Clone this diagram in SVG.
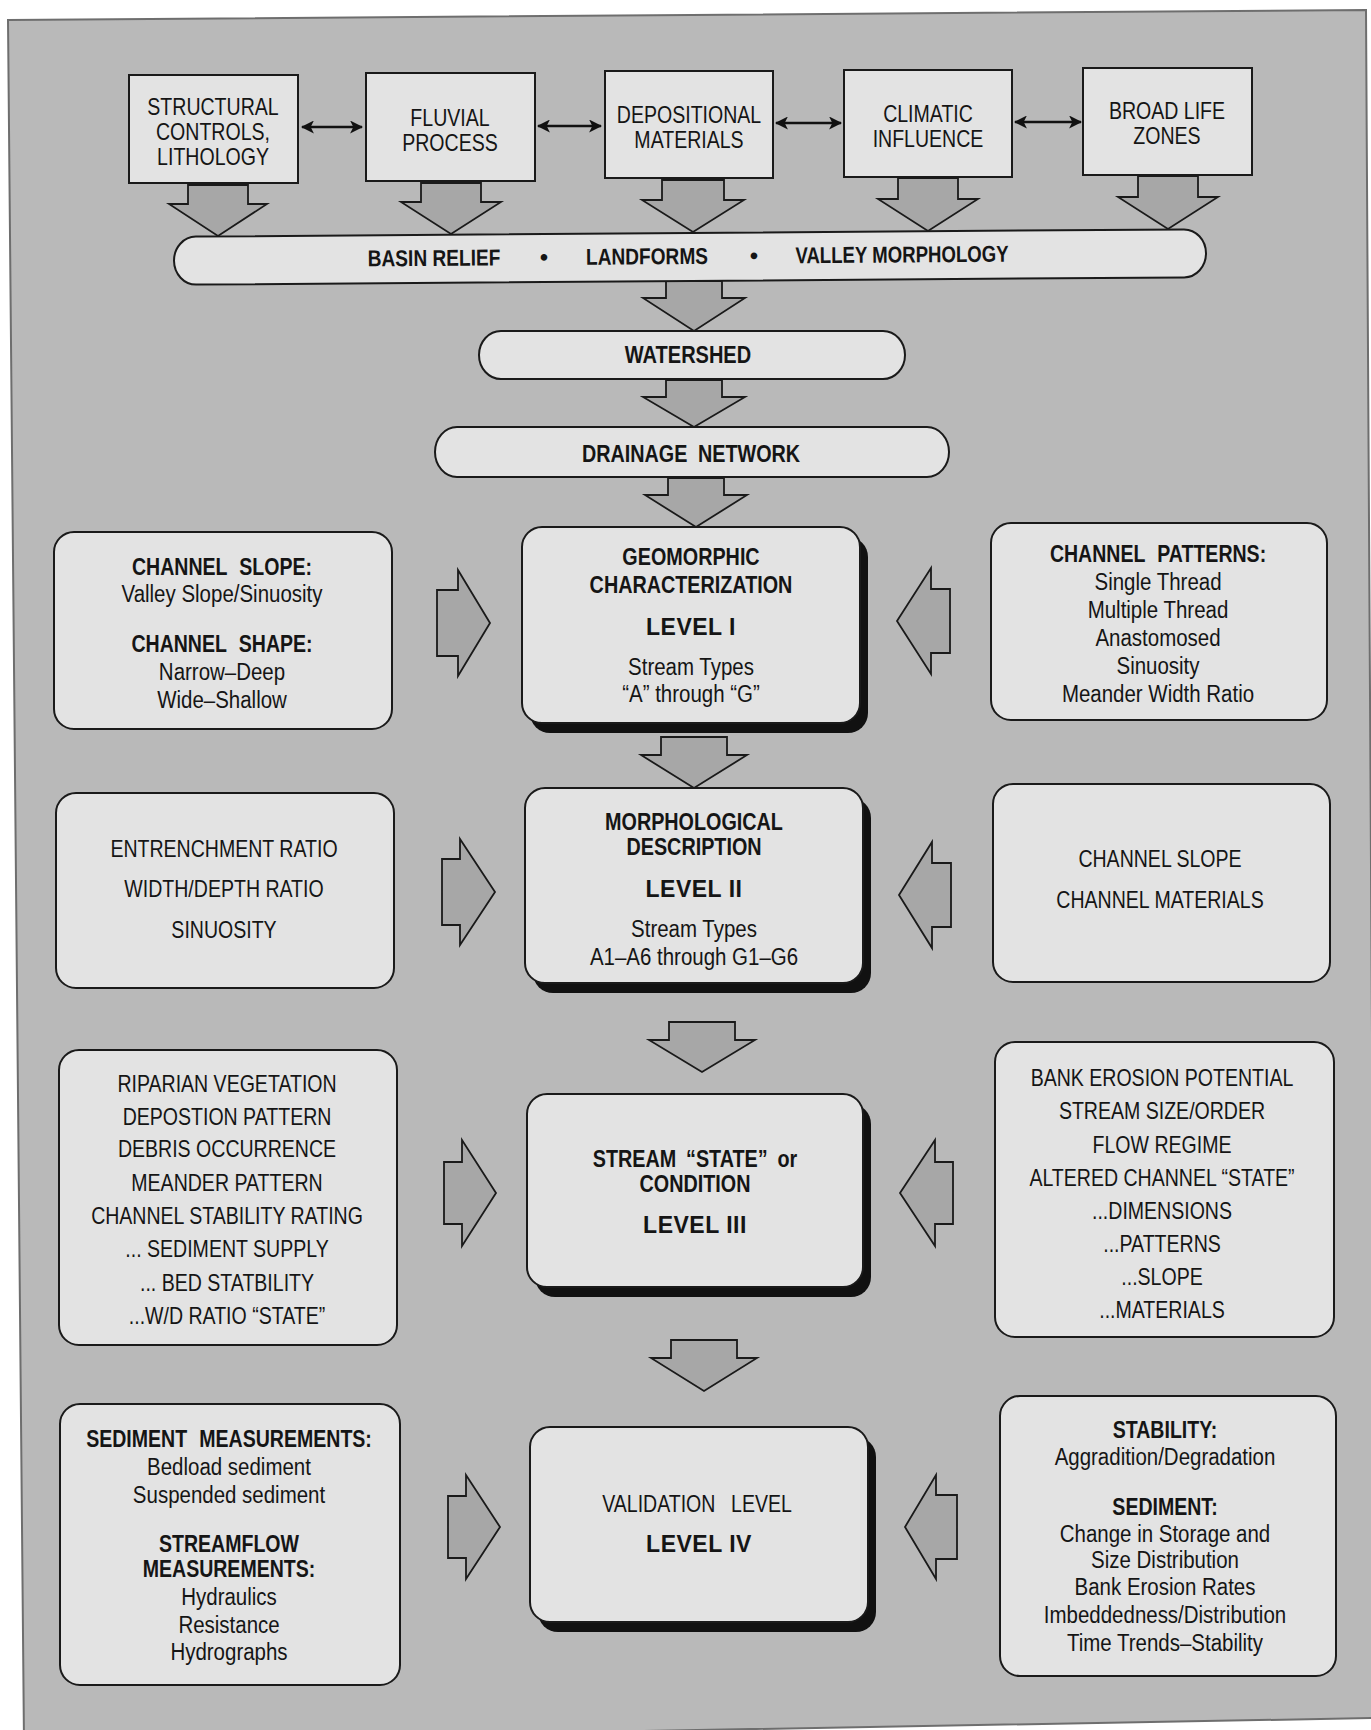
<svg xmlns="http://www.w3.org/2000/svg" width="1371" height="1730" viewBox="0 0 1371 1730">
<defs>
<style>
text{font-family:"Liberation Sans","Arial",sans-serif;font-size:23px;fill:#151515;text-anchor:middle}
.b{font-weight:bold}
.hd{font-weight:bold;word-spacing:8px}
.lv{font-weight:bold;letter-spacing:0.5px}
.box{fill:#e3e3e3;stroke:#1a1a1a;stroke-width:2}
.shadow{fill:#111}
.blk{fill:#a7a7a7;stroke:#1a1a1a;stroke-width:1.8;stroke-linejoin:miter}
.dbl{stroke:#111;stroke-width:2.5;fill:none}
</style>
<marker id="ah" viewBox="0 0 12 12" refX="11" refY="6" markerWidth="13" markerHeight="13" markerUnits="userSpaceOnUse" orient="auto-start-reverse">
<path d="M0,0 L12,6 L0,12 L3,6 Z" fill="#111"/>
</marker>
</defs>
<rect x="0" y="0" width="1371" height="1730" fill="#ffffff"/>
<polygon points="8,20 1366,10 1376,1718 24,1742" fill="#b9b9b9" stroke="#6e6e6e" stroke-width="2"/>

<g id="connectors">
<line class="dbl" x1="302" y1="127" x2="362" y2="127" marker-start="url(#ah)" marker-end="url(#ah)"/>
<line class="dbl" x1="538" y1="126" x2="601" y2="126" marker-start="url(#ah)" marker-end="url(#ah)"/>
<line class="dbl" x1="776" y1="123" x2="841" y2="123" marker-start="url(#ah)" marker-end="url(#ah)"/>
<line class="dbl" x1="1015" y1="122" x2="1081" y2="122" marker-start="url(#ah)" marker-end="url(#ah)"/>
<path class="blk" d="M188,185 L248,185 L248,204 L267,204 L218,236 L169,204 L188,204 Z"/>
<path class="blk" d="M421,183 L481,183 L481,202 L501,202 L451,234 L401,202 L421,202 Z"/>
<path class="blk" d="M662,180 L724,180 L724,200 L744,200 L693,232 L642,200 L662,200 Z"/>
<path class="blk" d="M898,178 L958,178 L958,199 L978,199 L928,231 L878,199 L898,199 Z"/>
<path class="blk" d="M1138,176 L1198,176 L1198,197 L1218,197 L1168,229 L1118,197 L1138,197 Z"/>
<path class="blk" d="M666,281 L722,281 L722,298 L745,298 L694,331 L643,298 L666,298 Z"/>
<path class="blk" d="M666,380 L722,380 L722,397 L745,397 L694,427 L643,397 L666,397 Z"/>
<path class="blk" d="M668,478 L724,478 L724,495 L747,495 L696,527 L645,495 L668,495 Z"/>
<path class="blk" d="M661,737 L727,737 L727,755 L747,755 L694,788 L641,755 L661,755 Z"/>
<path class="blk" d="M669,1022 L735,1022 L735,1040 L755,1040 L702,1072 L649,1040 L669,1040 Z"/>
<path class="blk" d="M671,1340 L737,1340 L737,1358 L757,1358 L704,1391 L651,1358 L671,1358 Z"/>
<path class="blk" d="M437,590 L458,590 L458,570 L490,623 L458,676 L458,656 L437,656 Z"/>
<path class="blk" d="M442,859 L460,859 L460,839 L495,892 L460,945 L460,925 L442,925 Z"/>
<path class="blk" d="M444,1162 L462,1162 L462,1140 L496,1193 L462,1246 L462,1224 L444,1224 Z"/>
<path class="blk" d="M448,1496 L466,1496 L466,1475 L500,1527 L466,1579 L466,1558 L448,1558 Z"/>
<path class="blk" d="M950,589 L931,589 L931,568 L897,621 L931,674 L931,653 L950,653 Z"/>
<path class="blk" d="M951,863 L932,863 L932,842 L899,895 L932,948 L932,927 L951,927 Z"/>
<path class="blk" d="M953,1162 L935,1162 L935,1140 L900,1193 L935,1246 L935,1224 L953,1224 Z"/>
<path class="blk" d="M957,1495 L936,1495 L936,1475 L905,1527 L936,1579 L936,1559 L957,1559 Z"/>
</g>

<g id="structural">
<rect class="box" x="129" y="75" width="169" height="108"/>
<g transform="translate(213 0) scale(.85 1)">
<text y="115">STRUCTURAL</text>
<text y="140">CONTROLS,</text>
<text y="165">LITHOLOGY</text>
</g>
</g>
<g id="fluvial">
<rect class="box" x="366" y="73" width="169" height="108"/>
<g transform="translate(450 0) scale(.85 1)">
<text y="126">FLUVIAL</text>
<text y="151">PROCESS</text>
</g>
</g>
<g id="depositional">
<rect class="box" x="605" y="71" width="168" height="107"/>
<g transform="translate(689 0) scale(.85 1)">
<text y="123">DEPOSITIONAL</text>
<text y="148">MATERIALS</text>
</g>
</g>
<g id="climatic">
<rect class="box" x="844" y="70" width="168" height="107"/>
<g transform="translate(928 0) scale(.85 1)">
<text y="122">CLIMATIC</text>
<text y="147">INFLUENCE</text>
</g>
</g>
<g id="lifezones">
<rect class="box" x="1083" y="68" width="169" height="107"/>
<g transform="translate(1167 0) scale(.85 1)">
<text y="119">BROAD LIFE</text>
<text y="144">ZONES</text>
</g>
</g>

<g id="basin" transform="rotate(-0.42 690 257)">
<rect class="box" x="174" y="233" width="1032" height="48" rx="22" ry="24"/>
<text class="b" transform="translate(434 0) scale(.83 1)" y="264">BASIN RELIEF</text>
<text class="b" x="544" y="264">•</text>
<text class="b" transform="translate(647 0) scale(.83 1)" y="264">LANDFORMS</text>
<text class="b" x="754" y="264">•</text>
<text class="b" transform="translate(902 0) scale(.81 1)" y="264">VALLEY MORPHOLOGY</text>
</g>

<g id="watershed">
<rect class="box" x="479" y="331" width="426" height="48" rx="22" ry="24"/>
<text class="b" transform="translate(688 0) scale(.87 1)" y="363">WATERSHED</text>
</g>
<g id="drainage">
<rect class="box" x="435" y="427" width="514" height="50" rx="22" ry="25"/>
<text class="b" transform="translate(691 0) scale(.86 1)" y="462" style="word-spacing:6px">DRAINAGE NETWORK</text>
</g>

<g id="level1">
<rect class="shadow" x="530" y="537" width="338" height="196" rx="20"/>
<rect class="box" x="522" y="527" width="338" height="196" rx="20"/>
<g transform="translate(691 0) scale(.86 1)">
<text class="b" y="565">GEOMORPHIC</text>
<text class="b" y="593">CHARACTERIZATION</text>
</g>
<text class="lv" x="691" y="635">LEVEL I</text>
<g transform="translate(691 0) scale(.89 1)">
<text y="675">Stream Types</text>
<text y="702">“A” through “G”</text>
</g>
</g>
<g id="level2">
<rect class="shadow" x="533" y="798" width="338" height="195" rx="20"/>
<rect class="box" x="525" y="788" width="338" height="195" rx="20"/>
<g transform="translate(694 0) scale(.86 1)">
<text class="b" y="830">MORPHOLOGICAL</text>
<text class="b" y="855">DESCRIPTION</text>
</g>
<text class="lv" x="694" y="897">LEVEL II</text>
<g transform="translate(694 0) scale(.89 1)">
<text y="937">Stream Types</text>
<text y="965">A1–A6 through G1–G6</text>
</g>
</g>
<g id="level3">
<rect class="shadow" x="535" y="1104" width="336" height="193" rx="20"/>
<rect class="box" x="527" y="1094" width="336" height="193" rx="20"/>
<g transform="translate(695 0) scale(.86 1)">
<text class="b" y="1167" style="word-spacing:5px">STREAM “STATE” or</text>
<text class="b" y="1192">CONDITION</text>
</g>
<text class="lv" x="695" y="1233">LEVEL III</text>
</g>
<g id="level4">
<rect class="shadow" x="538" y="1437" width="338" height="195" rx="20"/>
<rect class="box" x="530" y="1427" width="338" height="195" rx="20"/>
<text transform="translate(697 0) scale(.85 1)" y="1512" style="word-spacing:12px">VALIDATION LEVEL</text>
<text class="lv" x="699" y="1552">LEVEL IV</text>
</g>

<g id="slope-shape">
<rect class="box" x="54" y="532" width="338" height="197" rx="20"/>
<g transform="translate(222 0) scale(.85 1)">
<text class="hd" y="575">CHANNEL SLOPE:</text>
<text class="hd" y="652">CHANNEL SHAPE:</text>
</g>
<g transform="translate(222 0) scale(.89 1)">
<text y="602">Valley Slope/Sinuosity</text>
<text y="680">Narrow–Deep</text>
<text y="708">Wide–Shallow</text>
</g>
</g>
<g id="ratios">
<rect class="box" x="56" y="793" width="338" height="195" rx="20"/>
<g transform="translate(224 0) scale(.85 1)">
<text y="857">ENTRENCHMENT RATIO</text>
<text y="897">WIDTH/DEPTH RATIO</text>
<text y="938">SINUOSITY</text>
</g>
</g>
<g id="riparian">
<rect class="box" x="59" y="1050" width="338" height="295" rx="20"/>
<g transform="translate(227 0) scale(.85 1)">
<text y="1092">RIPARIAN VEGETATION</text>
<text y="1125">DEPOSTION PATTERN</text>
<text y="1157">DEBRIS OCCURRENCE</text>
<text y="1191">MEANDER PATTERN</text>
<text y="1224">CHANNEL STABILITY RATING</text>
<text y="1257">... SEDIMENT SUPPLY</text>
<text y="1291">... BED STATBILITY</text>
<text y="1324">...W/D RATIO “STATE”</text>
</g>
</g>
<g id="measurements">
<rect class="box" x="60" y="1404" width="340" height="281" rx="20"/>
<g transform="translate(229 0) scale(.85 1)">
<text class="hd" y="1447">SEDIMENT MEASUREMENTS:</text>
<text class="hd" y="1552">STREAMFLOW</text>
<text class="hd" y="1577">MEASUREMENTS:</text>
</g>
<g transform="translate(229 0) scale(.89 1)">
<text y="1475">Bedload sediment</text>
<text y="1503">Suspended sediment</text>
<text y="1605">Hydraulics</text>
<text y="1633">Resistance</text>
<text y="1660">Hydrographs</text>
</g>
</g>

<g id="patterns">
<rect class="box" x="991" y="523" width="336" height="197" rx="20"/>
<text class="hd" transform="translate(1158 0) scale(.85 1)" y="562">CHANNEL PATTERNS:</text>
<g transform="translate(1158 0) scale(.89 1)">
<text y="590">Single Thread</text>
<text y="618">Multiple Thread</text>
<text y="646">Anastomosed</text>
<text y="674">Sinuosity</text>
<text y="702">Meander Width Ratio</text>
</g>
</g>
<g id="slope-materials">
<rect class="box" x="993" y="784" width="337" height="198" rx="20"/>
<g transform="translate(1160 0) scale(.85 1)">
<text y="867">CHANNEL SLOPE</text>
<text y="908">CHANNEL MATERIALS</text>
</g>
</g>
<g id="bank-erosion">
<rect class="box" x="995" y="1042" width="339" height="295" rx="20"/>
<g transform="translate(1162 0) scale(.85 1)">
<text y="1086">BANK EROSION POTENTIAL</text>
<text y="1119">STREAM SIZE/ORDER</text>
<text y="1153">FLOW REGIME</text>
<text y="1186">ALTERED CHANNEL “STATE”</text>
<text y="1219">...DIMENSIONS</text>
<text y="1252">...PATTERNS</text>
<text y="1285">...SLOPE</text>
<text y="1318">...MATERIALS</text>
</g>
</g>
<g id="stability">
<rect class="box" x="1000" y="1396" width="336" height="280" rx="20"/>
<g transform="translate(1165 0) scale(.85 1)">
<text class="hd" y="1438">STABILITY:</text>
<text class="hd" y="1515">SEDIMENT:</text>
</g>
<g transform="translate(1165 0) scale(.89 1)">
<text y="1465">Aggradition/Degradation</text>
<text y="1542">Change in Storage and</text>
<text y="1568">Size Distribution</text>
<text y="1595">Bank Erosion Rates</text>
<text y="1623">Imbeddedness/Distribution</text>
<text y="1651">Time Trends–Stability</text>
</g>
</g>
</svg>
